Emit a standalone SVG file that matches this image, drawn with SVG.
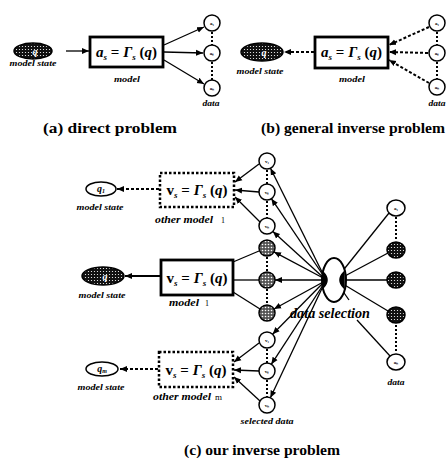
<svg xmlns="http://www.w3.org/2000/svg" width="446" height="458" viewBox="0 0 446 458">
<style>
  .cap{font-family:"Liberation Serif",serif;font-weight:bold;font-size:15px;fill:#000}
  .lbl{font-family:"Liberation Serif",serif;font-weight:bold;font-style:italic;font-size:8px;fill:#000}
  .lbl2{font-family:"Liberation Serif",serif;font-weight:bold;font-style:italic;font-size:10px;fill:#000}
  .eq{font-family:"Liberation Serif",serif;font-weight:bold;font-size:15px;fill:#000}
  .tiny{font-family:"Liberation Serif",serif;font-weight:bold;font-size:5px;fill:#000}
  .qt{font-family:"Liberation Serif",serif;font-weight:bold;font-style:italic;font-size:10px;fill:#000}
  .box{fill:#fff;stroke:#000;stroke-width:2.8}
  .dbox{fill:#fff;stroke:#000;stroke-width:2.5;stroke-dasharray:2.5 2}
  .c{fill:#fff;stroke:#000;stroke-width:1.5}
  .h{fill:url(#dots);stroke:#000;stroke-width:1.5}
  .h2{fill:url(#dots2);stroke:#000;stroke-width:1.5}
  .ln{fill:none;stroke:#000;stroke-width:1.3}
  .dl{fill:none;stroke:#000;stroke-width:2;stroke-dasharray:3 2}
  .dot{fill:none;stroke:#000;stroke-width:2;stroke-dasharray:2 2}
</style>
<defs>
  <pattern id="dots" width="3" height="3" patternUnits="userSpaceOnUse">
    <rect width="3" height="3" fill="#111"/>
    <circle cx="1.5" cy="1.5" r="0.6" fill="#fff"/>
  </pattern>
  <pattern id="dots2" width="3" height="3" patternUnits="userSpaceOnUse">
    <rect width="3" height="3" fill="#555"/>
    <circle cx="1.5" cy="1.5" r="0.8" fill="#fff"/>
  </pattern>
  <marker id="arr" markerWidth="8" markerHeight="8" refX="7" refY="4" orient="auto" markerUnits="userSpaceOnUse">
    <path d="M0,1 L7,4 L0,7 z" fill="#000"/>
  </marker>
</defs>
<rect width="446" height="458" fill="#fff"/>

<!-- connectors -->
<g id="connectors">
  <!-- (a) -->
  <line class="ln" x1="66" y1="51" x2="89" y2="51" marker-end="url(#arr)"/>
  <line class="ln" x1="164" y1="45" x2="204" y2="27" marker-end="url(#arr)"/>
  <line class="ln" x1="164" y1="52" x2="203" y2="53" marker-end="url(#arr)"/>
  <line class="ln" x1="164" y1="60" x2="204" y2="84" marker-end="url(#arr)"/>
  <line class="dot" x1="212" y1="32" x2="212" y2="45"/>
  <line class="dot" x1="212" y1="62" x2="212" y2="80"/>
  <!-- (b) -->
  <line class="dl" x1="314" y1="52" x2="284" y2="52" marker-end="url(#arr)"/>
  <line class="dl" x1="429" y1="27" x2="389" y2="45" marker-end="url(#arr)"/>
  <line class="dl" x1="428" y1="53" x2="389" y2="52" marker-end="url(#arr)"/>
  <line class="dl" x1="429" y1="83" x2="389" y2="60" marker-end="url(#arr)"/>
  <line class="dot" x1="437" y1="32" x2="437" y2="45"/>
  <line class="dot" x1="437" y1="62" x2="437" y2="79"/>
  <!-- (c) model states -->
  <line class="dl" x1="159" y1="189" x2="117" y2="189" marker-end="url(#arr)"/>
  <line class="ln" x1="160" y1="276" x2="125" y2="276" marker-end="url(#arr)" style="stroke-width:2"/>
  <line class="dl" x1="158" y1="369" x2="120" y2="369" marker-end="url(#arr)"/>
  <!-- selected data -> other model 1 -->
  <line class="ln" x1="259" y1="164" x2="235" y2="182" marker-end="url(#arr)"/>
  <line class="ln" x1="259" y1="192" x2="235" y2="190" marker-end="url(#arr)"/>
  <line class="ln" x1="260" y1="222" x2="235" y2="197" marker-end="url(#arr)"/>
  <!-- model 1 -> selected -->
  <line class="ln" x1="233" y1="262" x2="259" y2="251"/>
  <line class="ln" x1="233" y1="280" x2="259" y2="280"/>
  <line class="ln" x1="233" y1="292" x2="260" y2="309"/>
  <!-- selected data -> other model m -->
  <line class="ln" x1="259" y1="343" x2="234" y2="362" marker-end="url(#arr)"/>
  <line class="ln" x1="259" y1="371" x2="234" y2="370" marker-end="url(#arr)"/>
  <line class="ln" x1="260" y1="401" x2="234" y2="377" marker-end="url(#arr)"/>
  <!-- data selection -> selected data -->
  <line class="ln" x1="325" y1="278" x2="270.5" y2="168.2" marker-end="url(#arr)"/>
  <line class="ln" x1="325" y1="278" x2="271.4" y2="198.7" marker-end="url(#arr)"/>
  <line class="ln" x1="325" y1="279" x2="272.9" y2="231.5" marker-end="url(#arr)"/>
  <line class="ln" x1="325" y1="279" x2="274" y2="251.9" marker-end="url(#arr)"/>
  <line class="ln" x1="325" y1="280" x2="275" y2="280" marker-end="url(#arr)"/>
  <line class="ln" x1="325" y1="281" x2="274" y2="309" marker-end="url(#arr)"/>
  <line class="ln" x1="325" y1="281" x2="272.6" y2="334.2" marker-end="url(#arr)"/>
  <line class="ln" x1="325" y1="282" x2="271.3" y2="364.3" marker-end="url(#arr)"/>
  <line class="ln" x1="325" y1="282" x2="270.4" y2="397.7" marker-end="url(#arr)"/>
  <!-- data -> data selection -->
  <line class="ln" x1="341" y1="273" x2="389" y2="213"/>
  <line class="ln" x1="343" y1="277" x2="388" y2="253"/>
  <line class="ln" x1="344" y1="280" x2="387" y2="280"/>
  <line class="ln" x1="343" y1="284" x2="388" y2="311"/>
  <line class="ln" x1="357" y1="320" x2="390" y2="356"/>
  <line class="ln" x1="342" y1="290" x2="349" y2="300"/>
  <!-- dotted groups -->
  <line class="dot" x1="267" y1="170" x2="267" y2="184"/>
  <line class="dot" x1="267" y1="201" x2="267" y2="218"/>
  <line class="dot" x1="267" y1="257" x2="267" y2="272"/>
  <line class="dot" x1="267" y1="289" x2="267" y2="305"/>
  <line class="dot" x1="267" y1="349" x2="267" y2="363"/>
  <line class="dot" x1="267" y1="380" x2="267" y2="397"/>
  <line class="dot" x1="396" y1="217" x2="396" y2="241"/>
  <line class="dot" x1="396" y1="325" x2="396" y2="352"/>
</g>

<!-- (a) direct problem -->
<g id="a-state">
  <ellipse class="h" cx="33" cy="51" rx="19" ry="8"/>
  <text class="qt" x="35" y="55" text-anchor="middle" style="fill:#fff">q</text>
  <text class="lbl" x="33" y="66" text-anchor="middle" textLength="47" lengthAdjust="spacingAndGlyphs">model state</text>
</g>
<g id="a-model">
  <rect class="box" x="90" y="37" width="73" height="30"/>
  <text class="eq" x="126.5" y="57" text-anchor="middle"><tspan font-style="italic">a</tspan><tspan font-size="9" dy="3" font-style="italic">s</tspan><tspan dy="-3"> = </tspan><tspan font-style="italic">Γ</tspan><tspan font-size="9" dy="3" font-style="italic">s</tspan><tspan dy="-3"> (</tspan><tspan font-style="italic">q</tspan><tspan>)</tspan></text>
  <text class="lbl" x="127" y="82" text-anchor="middle" textLength="26" lengthAdjust="spacingAndGlyphs">model</text>
</g>
<g id="a-data">
  <circle class="c" cx="212" cy="23" r="8"/><text class="tiny" x="212" y="25" text-anchor="middle">a₁</text>
  <circle class="c" cx="212" cy="53" r="8"/><text class="tiny" x="212" y="55" text-anchor="middle">aₛ</text>
  <circle class="c" cx="212" cy="88" r="8"/><text class="tiny" x="212" y="90" text-anchor="middle">aₙ</text>
  <text class="lbl" x="211" y="106" text-anchor="middle" textLength="17" lengthAdjust="spacingAndGlyphs">data</text>
</g>
<text class="cap" x="43" y="133" textLength="134" lengthAdjust="spacingAndGlyphs">(a) direct problem</text>

<!-- (b) general inverse problem -->
<g id="b-state">
  <ellipse class="h" cx="262" cy="52" rx="21" ry="9"/>
  <text class="qt" x="264" y="56" text-anchor="middle" style="fill:#fff">q</text>
  <text class="lbl" x="260" y="74" text-anchor="middle" textLength="47" lengthAdjust="spacingAndGlyphs">model state</text>
</g>
<g id="b-model">
  <rect class="box" x="315" y="37" width="73" height="31"/>
  <text class="eq" x="351.5" y="57" text-anchor="middle"><tspan font-style="italic">a</tspan><tspan font-size="9" dy="3" font-style="italic">s</tspan><tspan dy="-3"> = </tspan><tspan font-style="italic">Γ</tspan><tspan font-size="9" dy="3" font-style="italic">s</tspan><tspan dy="-3"> (</tspan><tspan font-style="italic">q</tspan><tspan>)</tspan></text>
  <text class="lbl" x="352" y="82" text-anchor="middle" textLength="26" lengthAdjust="spacingAndGlyphs">model</text>
</g>
<g id="b-data">
  <circle class="c" cx="437" cy="23" r="8"/><text class="tiny" x="437" y="25" text-anchor="middle">a₁</text>
  <circle class="c" cx="437" cy="53" r="8"/><text class="tiny" x="437" y="55" text-anchor="middle">aₛ</text>
  <circle class="c" cx="437" cy="87" r="8"/><text class="tiny" x="437" y="89" text-anchor="middle">aₙ</text>
  <text class="lbl" x="437" y="106" text-anchor="middle" textLength="17" lengthAdjust="spacingAndGlyphs">data</text>
</g>
<text class="cap" x="261" y="133" textLength="184" lengthAdjust="spacingAndGlyphs">(b)  general inverse problem</text>

<!-- (c) our inverse problem -->
<g id="c-state1">
  <ellipse class="c" cx="101" cy="189" rx="15" ry="7"/>
  <text class="qt" x="101" y="192" text-anchor="middle">q<tspan font-size="6" dy="1">1</tspan></text>
  <text class="lbl" x="100" y="210" text-anchor="middle" textLength="47" lengthAdjust="spacingAndGlyphs">model state</text>
</g>
<g id="c-othermodel1">
  <rect class="dbox" x="160" y="173" width="74" height="34"/>
  <text class="eq" x="197" y="195" text-anchor="middle">v<tspan font-size="9" dy="3" font-style="italic">s</tspan><tspan dy="-3"> = </tspan><tspan font-style="italic">Γ</tspan><tspan font-size="9" dy="3" font-style="italic">s</tspan><tspan dy="-3"> (</tspan><tspan font-style="italic">q</tspan><tspan>)</tspan></text>
  <text class="lbl2" x="155" y="223" textLength="58" lengthAdjust="spacingAndGlyphs">other model</text>
  <text x="221" y="223" style="font-family:'Liberation Serif',serif;font-size:8px">1</text>
</g>
<g id="c-sel1">
  <circle class="c" cx="267" cy="161" r="8"/><text class="tiny" x="267" y="163" text-anchor="middle">v₁</text>
  <circle class="c" cx="267" cy="192" r="8"/><text class="tiny" x="267" y="194" text-anchor="middle">vₛ</text>
  <circle class="c" cx="267" cy="226" r="8"/><text class="tiny" x="267" y="228" text-anchor="middle">vₙ</text>
</g>

<g id="c-state">
  <ellipse class="h" cx="103" cy="276" rx="21" ry="9"/>
  <text class="qt" x="105" y="280" text-anchor="middle" style="fill:#fff">q</text>
  <text class="lbl" x="102" y="298" text-anchor="middle" textLength="47" lengthAdjust="spacingAndGlyphs">model state</text>
</g>
<g id="c-model">
  <rect class="box" x="161" y="260" width="72" height="35"/>
  <text class="eq" x="197" y="283" text-anchor="middle">v<tspan font-size="9" dy="3" font-style="italic">s</tspan><tspan dy="-3"> = </tspan><tspan font-style="italic">Γ</tspan><tspan font-size="9" dy="3" font-style="italic">s</tspan><tspan dy="-3"> (</tspan><tspan font-style="italic">q</tspan><tspan>)</tspan></text>
  <text class="lbl2" x="169" y="306" textLength="30" lengthAdjust="spacingAndGlyphs">model</text>
  <text x="205" y="306" style="font-family:'Liberation Serif',serif;font-size:8px">1</text>
</g>
<g id="c-sel">
  <circle class="h2" cx="267" cy="248" r="8"/>
  <circle class="h2" cx="267" cy="280" r="8"/>
  <circle class="h2" cx="267" cy="313" r="8"/>
</g>

<g id="c-statem">
  <ellipse class="c" cx="102" cy="369" rx="16" ry="7"/>
  <text class="qt" x="102" y="372" text-anchor="middle">q<tspan font-size="6" dy="1">m</tspan></text>
  <text class="lbl" x="101" y="390" text-anchor="middle" textLength="47" lengthAdjust="spacingAndGlyphs">model state</text>
</g>
<g id="c-othermodelm">
  <rect class="dbox" x="159" y="352" width="74" height="35"/>
  <text class="eq" x="196" y="375" text-anchor="middle">v<tspan font-size="9" dy="3" font-style="italic">s</tspan><tspan dy="-3"> = </tspan><tspan font-style="italic">Γ</tspan><tspan font-size="9" dy="3" font-style="italic">s</tspan><tspan dy="-3"> (</tspan><tspan font-style="italic">q</tspan><tspan>)</tspan></text>
  <text class="lbl2" x="153" y="400" textLength="58" lengthAdjust="spacingAndGlyphs">other model</text>
  <text x="215" y="400" style="font-family:'Liberation Serif',serif;font-size:9px">m</text>
</g>
<g id="c-selm">
  <circle class="c" cx="267" cy="340" r="8"/><text class="tiny" x="267" y="342" text-anchor="middle">v₁</text>
  <circle class="c" cx="267" cy="371" r="8"/><text class="tiny" x="267" y="373" text-anchor="middle">vₛ</text>
  <circle class="c" cx="267" cy="405" r="8"/><text class="tiny" x="267" y="407" text-anchor="middle">vₙ</text>
  <text class="lbl" x="267" y="424" text-anchor="middle" textLength="53" lengthAdjust="spacingAndGlyphs">selected data</text>
</g>

<g id="c-selection">
  <ellipse cx="334" cy="280" rx="12" ry="22" fill="#fff" stroke="#000" stroke-width="2"/>
  <path d="M323,272 Q331,280 323,288 Z" fill="#000" stroke="#000" stroke-width="1.5"/>
  <path d="M344,272 Q336,280 344,288 Z" fill="#000" stroke="#000" stroke-width="1.5"/>
  <text x="330" y="318" text-anchor="middle" style="font-family:'Liberation Serif',serif;font-weight:bold;font-style:italic;font-size:14px" textLength="80" lengthAdjust="spacingAndGlyphs">data selection</text>
</g>

<g id="c-data">
  <ellipse class="c" cx="396" cy="208" rx="9" ry="8"/><text class="tiny" x="396" y="210" text-anchor="middle">a₁</text>
  <ellipse class="h" cx="396" cy="250" rx="9" ry="8"/>
  <ellipse class="h" cx="396" cy="280" rx="9" ry="8"/>
  <ellipse class="h" cx="396" cy="315" rx="9" ry="8"/>
  <ellipse class="c" cx="396" cy="362" rx="9" ry="8"/><text class="tiny" x="396" y="364" text-anchor="middle">aₙ</text>
  <text class="lbl" x="396" y="385" text-anchor="middle" textLength="17" lengthAdjust="spacingAndGlyphs">data</text>
</g>

<text class="cap" x="184" y="455" textLength="156" lengthAdjust="spacingAndGlyphs">(c) our inverse problem</text>
</svg>
